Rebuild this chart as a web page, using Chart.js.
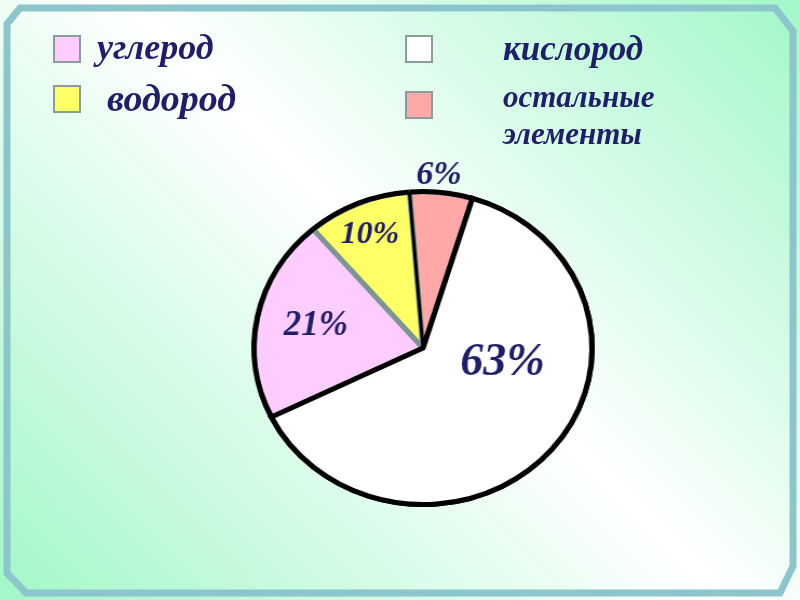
<!DOCTYPE html>
<html>
<head>
<meta charset="utf-8">
<script src="https://cdn.jsdelivr.net/npm/chart.js@4"></script>
<style>
  html,body{margin:0;padding:0;width:800px;height:600px;overflow:hidden;}
  body{background:linear-gradient(45deg,#a2f7c8 0%,#ffffff 52%,#a2f7c8 100%);position:relative;font-family:"Liberation Serif","DejaVu Serif",serif;}
  #frame{position:absolute;left:0;top:0;}
  #wrap{position:absolute;left:0;top:0;width:800px;height:600px;transform:scaleX(1.08);transform-origin:423px 0;}
  .sw{position:absolute;width:24px;height:24px;border:2px solid #8a9c9c;}
  .lb{position:absolute;font-style:italic;font-weight:bold;color:#1e1e6a;white-space:nowrap;line-height:1;}
</style>
</head>
<body>
<svg id="frame" width="800" height="600">
  <polygon points="20,8 775,8 793,31 793,566 780,593 26,593 7,573 7,24" fill="none" stroke="#8cc6cc" stroke-width="7"/>
</svg>
<div id="wrap"><canvas id="c" width="800" height="600"></canvas></div>
<div id="legend"></div>
<script>
const categories = ["кислород", "углерод", "водород", "остальные элементы"];
const values = [63, 21, 10, 6];
const labelTexts = ["63%", "21%", "10%", "6%"];

const colors = ["#ffffff", "#ffccff", "#ffff66", "#ffa8a8"];
const STRETCH = 1.08;
const labelStyle = [
  {ang: 11.6, rf: 0.48, size: 46},
  {ang: 192.5, rf: 0.65, size: 35},
  {ang: 246.6, rf: 0.79, size: 32},
  {ang: -85.1, rf: 1.11, size: 34}
];

// legend (HTML)
const legendItems = [
  {cat: 1, sx: 53, sy: 35, tx: 97, base: [59], fs: 36},
  {cat: 2, sx: 53, sy: 85, tx: 107, base: [111], fs: 38},
  {cat: 0, sx: 405, sy: 35, tx: 503, base: [60], fs: 35},
  {cat: 3, sx: 405, sy: 91, tx: 503, base: [107, 144], fs: 31}
];
const leg = document.getElementById('legend');
legendItems.forEach(it => {
  const s = document.createElement('div');
  s.className = 'sw';
  s.style.left = it.sx + 'px'; s.style.top = it.sy + 'px';
  s.style.background = colors[it.cat];
  leg.appendChild(s);
  const words = categories[it.cat].split(' ');
  words.forEach((w, i) => {
    const t = document.createElement('div');
    t.className = 'lb';
    t.style.left = it.tx + 'px';
    t.style.top = (it.base[i] - 0.8375 * it.fs) + 'px';
    t.style.fontSize = it.fs + 'px';
    t.textContent = w;
    leg.appendChild(t);
  });
});

const outlinePlugin = {
  id: 'outlines',
  afterDatasetsDraw(chart) {
    const ctx = chart.ctx;
    const meta = chart.getDatasetMeta(0);
    const arcs = meta.data;
    // black outer arc over coloured slices
    ctx.save();
    ctx.strokeStyle = '#000';
    ctx.lineWidth = 5;
    for (let i = 1; i < arcs.length; i++) {
      const a = arcs[i];
      ctx.beginPath();
      ctx.arc(a.x, a.y, a.outerRadius, a.startAngle, a.endAngle);
      ctx.stroke();
    }
    // black divider between hydrogen and the rest
    const y = arcs[2];
    ctx.beginPath();
    ctx.moveTo(y.x, y.y);
    ctx.lineTo(y.x + Math.cos(y.endAngle) * y.outerRadius, y.y + Math.sin(y.endAngle) * y.outerRadius);
    ctx.lineWidth = 3;
    ctx.stroke();
    ctx.restore();
    // redraw oxygen slice border on top
    arcs[0].draw(ctx);
    // percentage labels
    arcs.forEach((arc, i) => {
      const st = labelStyle[i];
      const ang = st.ang * Math.PI / 180;
      const r = arc.outerRadius * st.rf;
      const x = arc.x + Math.cos(ang) * r;
      const yy = arc.y + Math.sin(ang) * r;
      ctx.save();
      ctx.translate(x, yy);
      ctx.scale(1 / STRETCH, 1);
      ctx.font = 'italic bold ' + st.size + 'px "Liberation Serif", serif';
      ctx.fillStyle = '#1e1e6a';
      ctx.textAlign = 'center';
      ctx.textBaseline = 'middle';
      ctx.fillText(labelTexts[i], 0, 0);
      ctx.restore();
    });
  }
};

new Chart(document.getElementById('c'), {
  type: 'pie',
  data: {
    labels: categories,
    datasets: [{
      data: values,
      backgroundColor: colors,
      borderColor: ["#000000", "#7a9494", "#7a9494", "#7a9494"],
      borderWidth: [5, 2.5, 2.5, 2.5],
      borderAlign: ['center', 'inner', 'inner', 'inner'],
      borderJoinStyle: 'miter'
    }]
  },
  options: {
    responsive: false,
    animation: false,
    rotation: 17,
    layout: {padding: {left: 264, right: 218, top: 189, bottom: 93}},
    plugins: {legend: {display: false}, tooltip: {enabled: false}}
  },
  plugins: [outlinePlugin]
});
</script>
</body>
</html>
